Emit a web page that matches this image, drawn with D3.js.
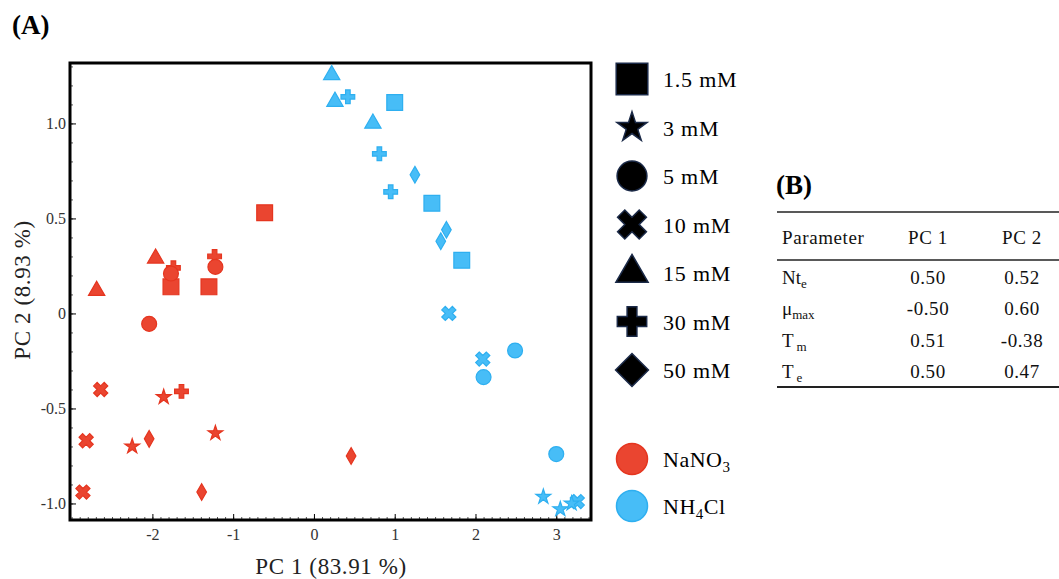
<!DOCTYPE html>
<html>
<head>
<meta charset="utf-8">
<script src="https://cdn.jsdelivr.net/npm/d3@7"></script>
<style>
  body { margin: 0; background: #fff; }
  text { font-family: "Liberation Serif", "Times New Roman", serif; }
</style>
</head>
<body>
<div id="chart"></div>
<script>
// concentration categories (legend order) and salts
const concLabels = ["1.5 mM", "3 mM", "5 mM", "10 mM", "15 mM", "30 mM", "50 mM"];
const saltNames = ["NaNO3", "NH4Cl"];

// NaNO3 scores
const naConc = ["1.5 mM","1.5 mM","1.5 mM","15 mM","15 mM","30 mM","30 mM","30 mM","5 mM","5 mM","5 mM",
                "10 mM","10 mM","10 mM","3 mM","3 mM","3 mM","50 mM","50 mM","50 mM"];
const naPC1 = [-0.61, -1.77, -1.30, -2.69, -1.96, -1.74, -1.23, -1.64, -1.77, -1.22, -2.04,
               -2.64, -2.82, -2.86, -1.86, -2.25, -1.22, -2.04, -1.39, 0.46];
const naPC2 = [0.53, 0.14, 0.14, 0.12, 0.29, 0.24, 0.30, -0.41, 0.21, 0.245, -0.055,
               -0.40, -0.67, -0.94, -0.44, -0.70, -0.63, -0.66, -0.94, -0.75];

// NH4Cl scores
const nhConc = ["15 mM","15 mM","15 mM","30 mM","30 mM","30 mM","1.5 mM","1.5 mM","1.5 mM","50 mM","50 mM","50 mM",
                "10 mM","10 mM","10 mM","5 mM","5 mM","5 mM","3 mM","3 mM","3 mM"];
const nhPC1 = [0.22, 0.26, 0.73, 0.42, 0.81, 0.95, 1.00, 1.46, 1.83, 1.25, 1.64, 1.57,
               1.67, 2.09, 3.26, 2.49, 2.10, 3.00, 2.84, 3.05, 3.19];
const nhPC2 = [1.255, 1.115, 1.00, 1.14, 0.84, 0.64, 1.11, 0.58, 0.28, 0.73, 0.44, 0.38,
               0.00, -0.24, -0.99, -0.195, -0.335, -0.74, -0.965, -1.03, -1.00];

// loadings table
const params = ["Nt|e", "μ|max", "T|m", "T|e"];
const pc1Load = ["0.50", "-0.50", "0.51", "0.50"];
const pc2Load = ["0.52", "0.60", "-0.38", "0.47"];

const xTicks = [-2, -1, 0, 1, 2, 3];
const yTicks = [-1.0, -0.5, 0, 0.5, 1.0];

const width = 1059, height = 579;
const plotLeft = 70, plotTop = 63, plotRight = 591, plotBottom = 520;

const saltColor = { "NaNO3": "#ea4530", "NH4Cl": "#47bdf7" };
const saltStroke = { "NaNO3": "#e5351f", "NH4Cl": "#2eaff0" };

// marker shapes in the plot
const shapeOf = {
  "1.5 mM": { type: d3.symbolSquare, size: 250, rot: 0 },
  "3 mM":   { type: d3.symbolStar, size: 68, rot: 0 },
  "5 mM":   { type: d3.symbolCircle, size: 175, rot: 0 },
  "10 mM":  { type: d3.symbolCross, size: 125, rot: 45 },
  "15 mM":  { type: d3.symbolTriangle, size: 115, rot: 0 },
  "30 mM":  { type: d3.symbolCross, size: 105, rot: 0 },
  "50 mM":  { type: d3.symbolDiamond, size: 80, rot: 0 }
};
// bigger black shapes in the legend
const legendShape = {
  "1.5 mM": { type: d3.symbolSquare, size: 1000, rot: 0 },
  "3 mM":   { type: d3.symbolStar, size: 280, rot: 0 },
  "5 mM":   { type: d3.symbolCircle, size: 700, rot: 0 },
  "10 mM":  { type: d3.symbolCross, size: 520, rot: 45 },
  "15 mM":  { type: d3.symbolTriangle, size: 450, rot: 0 },
  "30 mM":  { type: d3.symbolCross, size: 480, rot: 0 },
  "50 mM":  { type: d3.symbolSquare, size: 540, rot: 45 }
};

const svg = d3.select("#chart").append("svg")
  .attr("width", width).attr("height", height);

const x = d3.scaleLinear().domain([-3.02, 3.43]).range([plotLeft, plotRight]);
const y = d3.scaleLinear().domain([-1.087, 1.318]).range([plotBottom, plotTop]);

// minor ticks
svg.append("g")
  .attr("transform", `translate(0,${plotBottom})`)
  .call(d3.axisBottom(x).tickValues(d3.range(-3, 3.45, 0.1)).tickSize(-3).tickFormat(""))
  .call(g => g.select(".domain").remove())
  .call(g => g.selectAll("line").attr("stroke", "#555"));
svg.append("g")
  .attr("transform", `translate(${plotLeft},0)`)
  .call(d3.axisLeft(y).tickValues(d3.range(-1.0, 1.35, 0.1)).tickSize(-3).tickFormat(""))
  .call(g => g.select(".domain").remove())
  .call(g => g.selectAll("line").attr("stroke", "#555"));

// major ticks
svg.append("g")
  .attr("transform", `translate(0,${plotBottom})`)
  .call(d3.axisBottom(x).tickValues(xTicks).tickSize(-6).tickPadding(9).tickFormat(d => String(d)))
  .call(g => g.select(".domain").remove())
  .call(g => g.selectAll("text").attr("font-size", 16).attr("fill", "#333")
    .style("font-family", "Liberation Serif"));
svg.append("g")
  .attr("transform", `translate(${plotLeft},0)`)
  .call(d3.axisLeft(y).tickValues(yTicks).tickSize(-6).tickPadding(4)
    .tickFormat(d => d === 0 ? "0" : d.toFixed(1)))
  .call(g => g.select(".domain").remove())
  .call(g => g.selectAll("text").attr("font-size", 16).attr("fill", "#333")
    .style("font-family", "Liberation Serif"));

// frame
svg.append("rect")
  .attr("x", plotLeft).attr("y", plotTop)
  .attr("width", plotRight - plotLeft).attr("height", plotBottom - plotTop)
  .attr("fill", "none").attr("stroke", "#000").attr("stroke-width", 3);

// points
function pts(salt, conc, pc1, pc2) {
  return conc.map((c, i) => ({ salt: salt, conc: c, pc1: pc1[i], pc2: pc2[i] }));
}
const points = pts("NaNO3", naConc, naPC1, naPC2).concat(pts("NH4Cl", nhConc, nhPC1, nhPC2));

svg.append("g").selectAll("path")
  .data(points)
  .enter()
  .append("path")
    .attr("d", d => d3.symbol().type(shapeOf[d.conc].type).size(shapeOf[d.conc].size)())
    .attr("transform", d => `translate(${x(d.pc1)},${y(d.pc2)}) rotate(${shapeOf[d.conc].rot})`)
    .attr("fill", d => saltColor[d.salt])
    .attr("stroke", d => saltStroke[d.salt])
    .attr("stroke-width", 1.2);

// axis titles
svg.append("text")
  .attr("x", 331).attr("y", 574)
  .attr("text-anchor", "middle").attr("font-size", 23).attr("letter-spacing", 0.6).attr("fill", "#222")
  .text("PC 1 (83.91 %)");
svg.append("text")
  .attr("transform", "translate(30,290) rotate(-90)")
  .attr("text-anchor", "middle").attr("font-size", 23).attr("letter-spacing", 0.6).attr("fill", "#222")
  .text("PC 2 (8.93 %)");

svg.append("text")
  .attr("x", 12).attr("y", 34)
  .attr("font-size", 27).attr("font-weight", "bold")
  .text("(A)");

// legend: concentrations
const legY = d3.scalePoint().domain(concLabels).range([79, 370]);
const leg = svg.append("g").selectAll("g")
  .data(concLabels)
  .enter()
  .append("g")
    .attr("transform", d => `translate(632,${legY(d)})`);
leg.append("path")
  .attr("d", d => d3.symbol().type(legendShape[d].type).size(legendShape[d].size)())
  .attr("transform", d => `rotate(${legendShape[d].rot})`)
  .attr("fill", "#000")
  .attr("stroke", "#1b2a48")
  .attr("stroke-width", 1.5);
leg.append("text")
  .attr("x", 31).attr("y", 8)
  .attr("font-size", 22).attr("letter-spacing", 0.8)
  .text(d => d);

// legend: salts
const saltY = d3.scalePoint().domain(saltNames).range([459, 506]);
const sleg = svg.append("g").selectAll("g")
  .data(saltNames)
  .enter()
  .append("g")
    .attr("transform", d => `translate(632,${saltY(d)})`);
sleg.append("circle")
  .attr("r", 15.5)
  .attr("fill", d => saltColor[d])
  .attr("stroke", d => saltStroke[d])
  .attr("stroke-width", 1.5);
const st = sleg.append("text")
  .attr("x", 31).attr("y", 8)
  .attr("font-size", 22).attr("letter-spacing", 0.5);
st.each(function(d) {
  const t = d3.select(this);
  const m = d.match(/^([A-Za-z]+?)(\d)(.*)$/);
  t.append("tspan").text(m[1]);
  t.append("tspan").attr("dy", 5).attr("font-size", 15).text(m[2]);
  if (m[3]) t.append("tspan").attr("dy", -5).text(m[3]);
});

// (B) table
svg.append("text")
  .attr("x", 776).attr("y", 194)
  .attr("font-size", 27).attr("font-weight", "bold")
  .text("(B)");

const tLeft = 777, tRight = 1059;
const colX = [782, 928, 1022];
svg.append("line").attr("x1", tLeft).attr("x2", tRight).attr("y1", 212).attr("y2", 212)
  .attr("stroke", "#222").attr("stroke-width", 1.6);
svg.append("line").attr("x1", tLeft).attr("x2", tRight).attr("y1", 260).attr("y2", 260)
  .attr("stroke", "#222").attr("stroke-width", 1.6);
svg.append("line").attr("x1", tLeft).attr("x2", tRight).attr("y1", 387).attr("y2", 387)
  .attr("stroke", "#222").attr("stroke-width", 2.2);

const header = ["Parameter", "PC 1", "PC 2"];
svg.append("g").selectAll("text")
  .data(header)
  .enter()
  .append("text")
    .attr("x", (d, i) => colX[i])
    .attr("y", 244)
    .attr("text-anchor", (d, i) => i === 0 ? "start" : "middle")
    .attr("font-size", 19).attr("letter-spacing", 0.6).attr("fill", "#111")
    .text(d => d);

const rowY = d3.scalePoint().domain(params).range([284, 378]);
const rows = svg.append("g").selectAll("g")
  .data(params)
  .enter()
  .append("g")
    .attr("transform", d => `translate(0,${rowY(d)})`);
rows.append("text")
  .attr("x", colX[0]).attr("font-size", 19).attr("fill", "#111")
  .each(function(d) {
    const [base, sub] = d.split("|");
    const t = d3.select(this);
    t.append("tspan").text(base);
    t.append("tspan").attr("dy", 4).attr("font-size", 13)
      .attr("dx", base === "T" ? 3 : 0).text(sub);
  });
rows.append("text")
  .attr("x", colX[1]).attr("text-anchor", "middle").attr("font-size", 19).attr("letter-spacing", 0.6).attr("fill", "#111")
  .text((d, i) => pc1Load[i]);
rows.append("text")
  .attr("x", colX[2]).attr("text-anchor", "middle").attr("font-size", 19).attr("letter-spacing", 0.6).attr("fill", "#111")
  .text((d, i) => pc2Load[i]);
</script>
</body>
</html>
